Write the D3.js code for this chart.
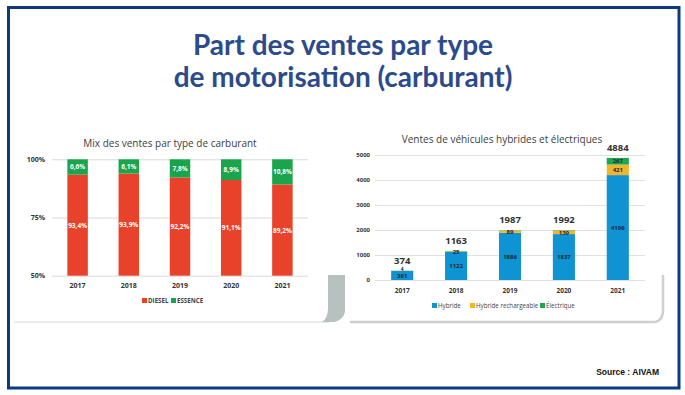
<!DOCTYPE html>
<html><head><meta charset="utf-8">
<script src="https://cdn.jsdelivr.net/npm/d3@7"></script>
<style>
body{margin:0;background:#fff;}
svg{display:block;}
</style></head>
<body>
<svg id="c" width="685" height="395"></svg>
<script>
// ---------- DATA ----------
const titleLines = ["Part des ventes par type", "de motorisation (carburant)"];
const sourceText = "Source : AIVAM";

const years = ["2017", "2018", "2019", "2020", "2021"];

// Left chart: fuel mix (%)
const mixTitle = "Mix des ventes par type de carburant";
const diesel = [93.4, 93.9, 92.2, 91.1, 89.2];
const essence = [6.6, 6.1, 7.8, 8.9, 10.8];
const mixTicks = [50, 75, 100];
const mixLegend = ["DIESEL", "ESSENCE"];

// Right chart: hybrid & electric sales
const hevTitle = "Ventes de véhicules hybrides et électriques";
const hybride = [361, 1122, 1886, 1837, 4196];
const rechargeable = [4, 25, 89, 139, 421];
const electrique = [9, 16, 12, 16, 267];
const totals = [374, 1163, 1987, 1992, 4884];
const hevTicks = [0, 1000, 2000, 3000, 4000, 5000];
const hevLegend = ["Hybride", "Hybride rechargeable", "Électrique"];

// ---------- DRAW ----------
const svg = d3.select("#c");
const navy = "#0b3b7e";
const cRed = "#e8422a", cGreen = "#1aa54c";
const cBlue = "#0f93d3", cOrange = "#f1b42d", cGreen2 = "#1fa64f";
const chartFont = "'Open Sans', 'Noto Sans', sans-serif";

// frame
svg.append("rect").attr("x", 8.5).attr("y", 7.5).attr("width", 670.5).attr("height", 380.5)
  .attr("fill", "none").attr("stroke", navy).attr("stroke-width", 3);

// main title
svg.selectAll("text.mt").data(titleLines).join("text").attr("class", "mt")
  .attr("x", 343).attr("y", (d, i) => 55 + i * 32)
  .attr("text-anchor", "middle")
  .attr("font-family", "Lato, 'Open Sans', sans-serif").attr("font-weight", 700)
  .attr("font-size", 28).attr("fill", "#2b4b8b").text(d => d);

// panel shadows
const sh = svg.append("g");
sh.append("line").attr("x1", 14).attr("x2", 330).attr("y1", 322).attr("y2", 322)
  .attr("stroke", "#e6e6e6").attr("stroke-width", 1.5);
sh.append("path").attr("d", "M328,275 L345,275 L345,312 Q343,320 334,322 L322,322 Q328,318 328,308 Z")
  .attr("fill", "#b9c0c0");
sh.append("path").attr("d", "M350,322 L655,322 Q662,321 663,312 L663,275")
  .attr("fill", "none").attr("stroke", "#cfcfcf").attr("stroke-width", 2.5);

// ---------- Left chart ----------
const xL = d3.scaleBand().domain(years).range([52, 308]).paddingInner(0.6).paddingOuter(0.3);
const yL = d3.scaleLinear().domain([50, 100]).range([275.7, 159.3]);
const gL = svg.append("g");

gL.append("text").attr("x", 170).attr("y", 146.5).attr("text-anchor", "middle")
  .attr("font-family", chartFont).attr("font-size", 10).attr("fill", "#404040").text(mixTitle);

const axL = gL.append("g").attr("transform", "translate(52,0)")
  .call(d3.axisLeft(yL).tickValues(mixTicks).tickSize(-256).tickFormat(d => d + "%"));
axL.select(".domain").remove();
axL.selectAll(".tick line").attr("stroke", "#d9d9d9");
axL.selectAll(".tick text").attr("x", -7).attr("font-family", chartFont).attr("font-weight", 700)
  .attr("font-size", 7).attr("fill", "#333");

gL.selectAll("rect.d").data(years).join("rect").attr("class", "d")
  .attr("x", d => xL(d)).attr("width", xL.bandwidth())
  .attr("y", (d, i) => yL(diesel[i])).attr("height", (d, i) => yL(50) - yL(diesel[i]))
  .attr("fill", cRed);
gL.selectAll("rect.e").data(years).join("rect").attr("class", "e")
  .attr("x", d => xL(d)).attr("width", xL.bandwidth())
  .attr("y", (d, i) => yL(diesel[i] + essence[i])).attr("height", (d, i) => yL(diesel[i]) - yL(diesel[i] + essence[i]))
  .attr("fill", cGreen);

const fmtPct = v => v.toFixed(1).replace(".", ",") + "%";
gL.selectAll("text.dl").data(years).join("text").attr("class", "dl")
  .attr("x", d => xL(d) + xL.bandwidth() / 2)
  .attr("y", (d, i) => (yL(diesel[i]) + yL(50)) / 2 + 2.5)
  .attr("text-anchor", "middle").attr("font-family", chartFont).attr("font-weight", 700)
  .attr("font-size", 6.5).attr("fill", "#fff").text((d, i) => fmtPct(diesel[i]));
gL.selectAll("text.el").data(years).join("text").attr("class", "el")
  .attr("x", d => xL(d) + xL.bandwidth() / 2)
  .attr("y", (d, i) => (yL(diesel[i]) + yL(100)) / 2 + 2.5)
  .attr("text-anchor", "middle").attr("font-family", chartFont).attr("font-weight", 700)
  .attr("font-size", 6.5).attr("fill", "#fff").text((d, i) => fmtPct(essence[i]));

const axLx = gL.append("g").attr("transform", "translate(0,275.7)")
  .call(d3.axisBottom(xL).tickSize(0));
axLx.select(".domain").remove();
axLx.selectAll(".tick text").attr("dy", 0).attr("y", 12).attr("font-family", chartFont).attr("font-weight", 700)
  .attr("font-size", 7).attr("fill", "#333");

const legL = gL.append("g");
const legLx = [142, 171];
const legLc = [cRed, cGreen];
mixLegend.forEach((t, i) => {
  legL.append("rect").attr("x", legLx[i]).attr("y", 298).attr("width", 5).attr("height", 5).attr("fill", legLc[i]);
  legL.append("text").attr("x", legLx[i] + 6).attr("y", 303).attr("font-family", chartFont).attr("font-weight", 700)
    .attr("font-size", 6.2).attr("fill", "#444").text(t);
});

// ---------- Right chart ----------
const xR = d3.scaleBand().domain(years).range([375, 645]).paddingInner(0.59).paddingOuter(0.3);
const yR = d3.scaleLinear().domain([0, 5000]).range([280, 155]);
const gR = svg.append("g");

gR.append("text").attr("x", 502).attr("y", 142.5).attr("text-anchor", "middle")
  .attr("font-family", chartFont).attr("font-size", 10).attr("fill", "#404040").text(hevTitle);

const axR = gR.append("g").attr("transform", "translate(375,0)")
  .call(d3.axisLeft(yR).tickValues(hevTicks).tickSize(-270).tickFormat(d3.format("d")));
axR.select(".domain").remove();
axR.selectAll(".tick line").attr("stroke", "#e0e0e0");
axR.selectAll(".tick text").attr("x", -5).attr("font-family", chartFont).attr("font-weight", 700)
  .attr("font-size", 6).attr("fill", "#333");

const stackData = years.map((y, i) => ({year: y, h: hybride[i], r: rechargeable[i], e: electrique[i]}));
const series = d3.stack().keys(["h", "r", "e"])(stackData);
const colR = {h: cBlue, r: cOrange, e: cGreen2};
gR.selectAll("g.s").data(series).join("g").attr("class", "s").attr("fill", d => colR[d.key])
  .selectAll("rect").data(d => d).join("rect")
  .attr("x", d => xR(d.data.year)).attr("width", xR.bandwidth())
  .attr("y", d => yR(d[1])).attr("height", d => yR(d[0]) - yR(d[1]));

// segment labels (hybride all, rechargeable all, électrique only where visible)
const segLabels = [];
series.forEach(s => s.forEach((d, i) => {
  const v = d[1] - d[0];
  if (s.key === "e" && v < 100) return;
  const tiny = v < 10;
  segLabels.push({year: d.data.year, v: v, y: tiny ? yR(d[1]) - 2.5 : (yR(d[0]) + yR(d[1])) / 2, fs: tiny ? 5 : 6});
}));
gR.selectAll("text.sl").data(segLabels).join("text").attr("class", "sl")
  .attr("x", d => xR(d.year) + xR.bandwidth() / 2).attr("y", d => d.y + 2.2)
  .attr("text-anchor", "middle").attr("font-family", chartFont).attr("font-weight", 700)
  .attr("font-size", d => d.fs).attr("fill", "#1a2a3a").text(d => d.v);

gR.selectAll("text.tot").data(years).join("text").attr("class", "tot")
  .attr("x", d => xR(d) + xR.bandwidth() / 2)
  .attr("y", (d, i) => yR(totals[i]) - 7)
  .attr("text-anchor", "middle").attr("font-family", chartFont).attr("font-weight", 700)
  .attr("font-size", 9.5).attr("fill", "#333").text((d, i) => totals[i]);

const axRx = gR.append("g").attr("transform", "translate(0,280)")
  .call(d3.axisBottom(xR).tickSize(0));
axRx.select(".domain").remove();
axRx.selectAll(".tick text").attr("dy", 0).attr("y", 13).attr("font-family", chartFont).attr("font-weight", 700)
  .attr("font-size", 6.5).attr("fill", "#333");

const legRx = [432, 470, 540];
const legRc = [cBlue, cOrange, cGreen2];
hevLegend.forEach((t, i) => {
  gR.append("rect").attr("x", legRx[i]).attr("y", 303).attr("width", 5).attr("height", 5).attr("fill", legRc[i]);
  gR.append("text").attr("x", legRx[i] + 6).attr("y", 308).attr("font-family", chartFont)
    .attr("font-size", 6.2).attr("fill", "#444").text(t);
});

// source
svg.append("text").attr("x", 659).attr("y", 374.5).attr("text-anchor", "end")
  .attr("font-family", "'Liberation Sans', Arial, sans-serif").attr("font-weight", 700)
  .attr("font-size", 8.5).attr("fill", "#111").text(sourceText);
</script>
</body></html>
